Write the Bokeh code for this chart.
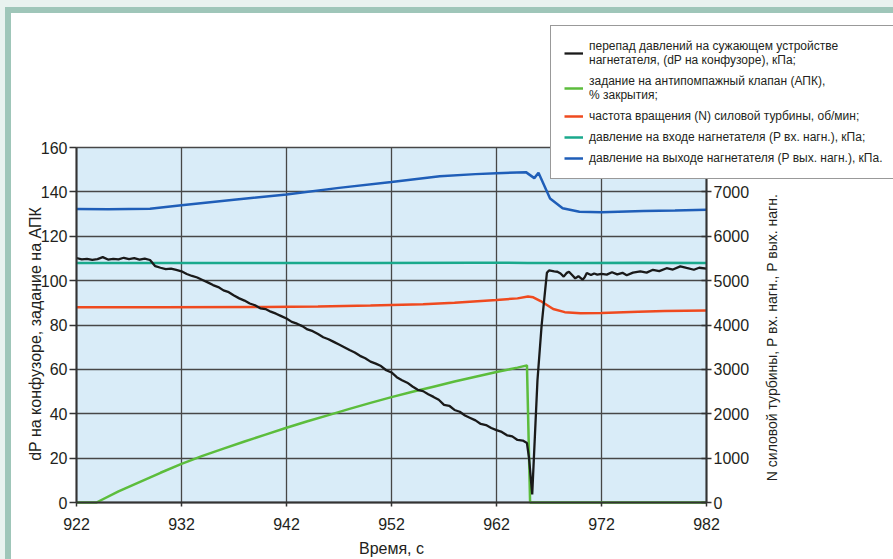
import math
from bokeh.plotting import figure
from bokeh.layouts import column, row
from bokeh.models import (Range1d, LinearAxis, Legend, LegendItem, FixedTicker, Spacer,
                          BoxAnnotation)
from bokeh.core.properties import value
from bokeh.embed import file_html
from bokeh.resources import INLINE

# ---------------- data ----------------
# dP on the confuser, kPa (left axis)
t_dp = [922, 922.5, 923, 923.5, 924, 924.5, 925, 925.5, 926, 926.5, 927, 927.5, 928, 928.5, 929,
        929.5, 930, 930.5, 931, 931.5, 932, 932.5, 933, 933.5, 934, 934.5, 935, 935.5, 936, 936.5,
        937, 937.5, 938, 938.5, 939, 939.5, 940, 940.5, 941, 941.5, 942, 942.5, 943, 943.5, 944,
        944.5, 945, 945.5, 946, 946.5, 947, 947.5, 948, 948.5, 949, 949.5, 950, 950.5, 951, 951.5,
        952, 952.5, 953, 953.5, 954, 954.5, 955, 955.5, 956, 956.5, 957, 957.5, 958, 958.5, 959,
        959.5, 960, 960.5, 961, 961.5, 962, 962.5, 963, 963.5, 964, 964.5, 964.9, 965.1, 965.4,
        965.9, 966.3, 966.8, 967.0, 967.5, 967.8, 968.1, 968.4, 968.7, 968.9, 969.2, 969.5, 969.8,
        970.2, 970.4, 970.6, 971.0, 971.3, 971.6, 972.0, 972.5, 973.0, 973.5, 974.0, 974.4, 975.0,
        975.7, 976.3, 976.9, 977.5, 978.2, 978.8, 979.5, 980.1, 980.8, 981.3, 982]
dp = [110.2, 109.6, 109.8, 109.4, 109.7, 110.6, 109.5, 109.8, 109.6, 110.3, 109.7, 110.1, 109.5, 109.9, 109.3,
      106.5, 105.8, 105.2, 105.4, 104.8, 104.2, 103.0, 102.1, 101.4, 100.3, 99.2, 98.0, 97.1, 95.6, 94.8,
      93.3, 92.0, 91.0, 89.7, 88.9, 87.5, 87.2, 86.0, 85.1, 84.0, 82.9, 81.4, 80.6, 79.5, 78.0,
      77.2, 75.9, 74.5, 73.6, 72.4, 71.2, 70.0, 68.7, 67.6, 66.1, 65.0, 63.5, 62.6, 61.5, 59.6,
      58.6, 56.5, 55.1, 54.0, 52.3, 50.8, 50.2, 48.8, 47.6, 46.3, 44.0, 43.6, 41.7, 40.9, 39.2,
      38.1, 37.0, 35.4, 34.9, 33.6, 32.6, 31.8, 30.3, 29.8, 28.2, 27.9, 26.8, 20.0, 3.6,
      55.0, 80.0, 103.5, 104.6, 104.2, 104.0, 103.2, 101.8, 103.5, 104.0, 102.5, 101.0, 102.0,
      100.4, 101.5, 103.4, 102.5, 103.2, 102.7, 103.0, 102.7, 103.8, 102.8, 103.5, 102.4, 103.6,
      104.2, 103.6, 104.9, 104.3, 105.6, 105.0, 106.4, 105.7, 104.9, 105.8, 105.4]

# anti-surge valve setpoint, % closing (left axis)
t_apk = [922, 923.9, 926, 928, 930, 932, 934, 936, 938, 940, 942, 944, 946, 948, 950, 952,
         954, 956, 958, 960, 962, 964, 964.9, 965.2, 982]
apk = [0, 0, 5.0, 9.2, 13.4, 17.4, 21.0, 24.3, 27.5, 30.6, 33.7, 36.6, 39.4, 42.2, 44.9, 47.5,
       49.9, 52.2, 54.5, 56.7, 58.8, 60.8, 61.8, 0, 0]

# power turbine speed N, rpm (right axis)
t_n = [922, 930, 940, 945, 950, 955, 958, 962, 964, 965, 965.5, 966.2, 967.4, 968.5, 970,
       972, 975.5, 978, 982]
n_rpm = [4400, 4400, 4405, 4415, 4440, 4470, 4500, 4565, 4600, 4640, 4625, 4540, 4360, 4290,
         4265, 4270, 4300, 4315, 4325]

# compressor inlet pressure, kPa (right axis)
t_pin = [922, 930, 940, 950, 960, 965, 970, 976, 982]
p_in = [5400, 5395, 5400, 5398, 5402, 5400, 5398, 5402, 5400]

# compressor outlet pressure, kPa (right axis)
t_pout = [922, 925, 929, 932, 937, 942, 947, 952, 956.6, 960, 962, 964.8, 965.6, 966.0,
          967.1, 968.3, 969.9, 972, 976, 979, 982]
p_out = [6615, 6610, 6620, 6700, 6825, 6940, 7090, 7220, 7350, 7400, 7420, 7445, 7310, 7430,
         6850, 6630, 6550, 6540, 6570, 6580, 6595]

x_ticks = [922, 932, 942, 952, 962, 972, 982]
left_ticks = [0, 20, 40, 60, 80, 100, 120, 140, 160]
right_ticks = [0, 1000, 2000, 3000, 4000, 5000, 6000, 7000, 8000]

x_label = "Время, с"
left_label = "dP на конфузоре, задание на АПК"
right_label = "N силовой турбины, P вх. нагн., P вых. нагн."

labels = ["перепад давлений на сужающем устройстве\nнагнетателя, (dP на конфузоре), кПа;",
          "задание на антипомпажный клапан (АПК),\n% закрытия;",
          "частота вращения (N) силовой турбины, об/мин;",
          "давление на входе нагнетателя (P вх. нагн.), кПа;",
          "давление на выходе нагнетателя (P вых. нагн.), кПа."]

# ---------------- layout constants ----------------
FONT = "Liberation Sans"
INK = "#231f20"
AX = "#333333"
W, H = 882, 546            # figure size (placed at page offset 11, 13)
X0, X1 = 922, 982
Y0, Y1 = 0, 160
RATIO = 50                 # right-axis units per left-axis unit
PX_X = 10.5                # px per second
PX_Y = 355 / 160           # px per left-axis unit
LEFT_PX, BOTTOM_PX = 65, 57  # distance of (X0, Y0) from the figure's left / bottom edge
x_min = X0 - LEFT_PX / PX_X
x_max = x_min + W / PX_X
y_min = Y0 - BOTTOM_PX / PX_Y
y_max = y_min + H / PX_Y

p = figure(width=W, height=H, output_backend="svg", toolbar_location=None,
           x_range=Range1d(x_min, x_max), y_range=Range1d(y_min, y_max),
           min_border_left=0, min_border_right=0, min_border_top=0, min_border_bottom=0)
p.extra_y_ranges = {"right": Range1d(y_min * RATIO, y_max * RATIO)}
p.background_fill_color = "white"
p.border_fill_color = "white"
p.outline_line_color = None

# plotting area background
p.add_layout(BoxAnnotation(left=X0, right=X1, bottom=Y0, top=Y1, fill_color="#d9ecf8",
                           fill_alpha=1, line_alpha=0, level="image"))


def style_axis(ax, tick_in, tick_out, standoff):
    ax.axis_line_color = AX
    ax.axis_line_width = 2
    ax.major_tick_line_color = AX
    ax.major_tick_line_width = 1.5
    ax.major_tick_in = tick_in
    ax.major_tick_out = tick_out
    ax.minor_tick_line_color = None
    ax.major_label_text_font = FONT
    ax.major_label_text_font_size = "16px"
    ax.major_label_text_color = INK
    ax.major_label_standoff = standoff


# axes drawn at fixed data positions
xa = p.xaxis[0]
xa.ticker = FixedTicker(ticks=x_ticks)
xa.bounds = (X0, X1)
xa.fixed_location = Y0
style_axis(xa, 0, 4, 11)

ya = p.yaxis[0]
ya.ticker = FixedTicker(ticks=left_ticks)
ya.bounds = (Y0, Y1)
ya.fixed_location = X0
style_axis(ya, 0, 7, 2)

ry = LinearAxis(y_range_name="right", ticker=FixedTicker(ticks=right_ticks),
                bounds=(right_ticks[0], right_ticks[-1]), fixed_location=X1)
style_axis(ry, 5, 5, 2)
p.add_layout(ry, "right")

# axis titles
p.text(x=[(X0 + X1) / 2], y=[Y0], text=[x_label], y_offset=37, text_align="center",
       text_baseline="top", text_font=value(FONT), text_font_size="16px", text_color=INK)
p.text(x=[X0], y=[76], text=[left_label], x_offset=-41, angle=math.pi / 2,
       text_align="center", text_baseline="middle", text_font=value(FONT),
       text_font_size="16px", text_color=INK)
p.text(x=[X1], y=[3720], text=[right_label], x_offset=65, angle=math.pi / 2,
       y_range_name="right", text_align="center", text_baseline="middle",
       text_font=value(FONT), text_font_size="14px", text_color=INK)

# grid
p.xgrid.ticker = FixedTicker(ticks=x_ticks)
p.ygrid.ticker = FixedTicker(ticks=left_ticks)
p.xgrid.cross_bounds = (Y0, Y1)
p.ygrid.cross_bounds = (X0, X1)
for g in (p.xgrid[0], p.ygrid[0]):
    g.grid_line_color = "#474747"
    g.grid_line_width = 1.3

# lines
r_in = p.line(t_pin, p_in, y_range_name="right", line_color="#1aa98c", line_width=2.5)
r_out = p.line(t_pout, p_out, y_range_name="right", line_color="#1f5eb8", line_width=2.5)
r_n = p.line(t_n, n_rpm, y_range_name="right", line_color="#ef4a1f", line_width=2.5)
r_apk = p.line(t_apk, apk, line_color="#5cbd3c", line_width=2.5)
r_dp = p.line(t_dp, dp, line_color="#1a1a1a", line_width=2.3)

legend = Legend(items=[LegendItem(label=labels[0], renderers=[r_dp]),
                       LegendItem(label=labels[1], renderers=[r_apk]),
                       LegendItem(label=labels[2], renderers=[r_n]),
                       LegendItem(label=labels[3], renderers=[r_in]),
                       LegendItem(label=labels[4], renderers=[r_out])],
                location=(539, 380))
legend.label_text_font = FONT
legend.label_text_font_size = "12px"
legend.label_text_color = INK
legend.label_text_line_height = 0.9
legend.glyph_width = 19
legend.glyph_height = 12
legend.label_height = 12
legend.label_standoff = 6
legend.spacing = 7
legend.padding = 13
legend.margin = 0
legend.border_line_color = AX
legend.border_line_width = 1.5
legend.background_fill_color = "white"
legend.background_fill_alpha = 1
p.add_layout(legend, "center")

# outer frame: light strip + green band on the left and top
LIGHT = "#e9f2ef"
GREEN = "#9fc6b9"
top_strip = Spacer(width=893, height=7, styles={"background-color": LIGHT})
top_band = row(Spacer(width=5, height=6, styles={"background-color": LIGHT}),
               Spacer(width=888, height=6, styles={"background-color": GREEN}),
               spacing=0)
body = row(Spacer(width=5, height=H, styles={"background-color": LIGHT}),
           Spacer(width=6, height=H, styles={"background-color": GREEN}),
           p, spacing=0)
page = column(top_strip, top_band, body, spacing=0)

open("out.html", "w").write(file_html(page, INLINE))
